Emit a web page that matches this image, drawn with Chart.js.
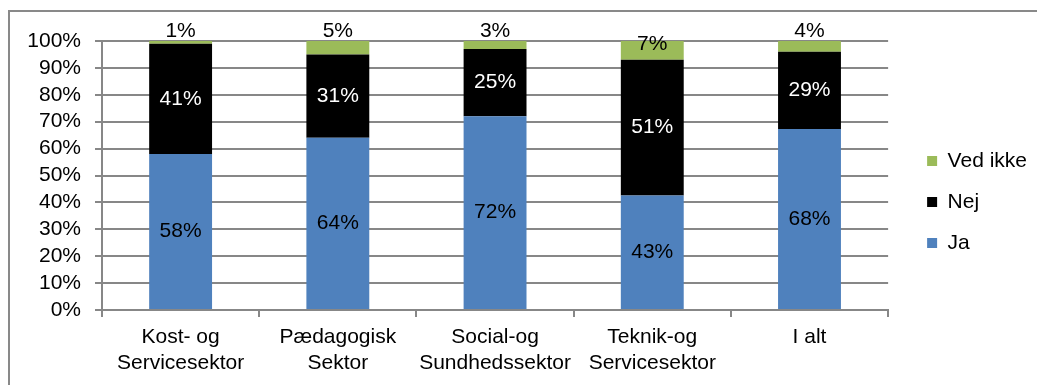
<!DOCTYPE html>
<html lang="da">
<head>
<meta charset="utf-8">
<title>Ja / Nej / Ved ikke</title>
<script src="https://cdn.jsdelivr.net/npm/chart.js@4.4.1/dist/chart.umd.min.js"></script>
<style>
  html, body { margin: 0; padding: 0; background: #fff; overflow: hidden; }
  #wrap { position: relative; width: 1037px; height: 385px; overflow: hidden; }
  #ramme { position: absolute; left: 8px; top: 10px; width: 1100px; height: 400px; border-left: 2px solid #898989; border-top: 2px solid #898989; }
  canvas { position: absolute; left: 0; top: 0; }
</style>
</head>
<body>
<div id="wrap">
  <div id="ramme"></div>
  <canvas id="grafik" width="1037" height="385"></canvas>
</div>
<script>
const sektorer = [
  ["Kost- og", "Servicesektor"],
  ["Pædagogisk", "Sektor"],
  ["Social-og", "Sundhedssektor"],
  ["Teknik-og", "Servicesektor"],
  ["I alt"],
];
const ja = [58, 64, 72, 43, 68];
const nej = [41, 31, 25, 51, 29];
const vedIkke = [1, 5, 3, 7, 4];
const procenter = [0, 10, 20, 30, 40, 50, 60, 70, 80, 90, 100];

const gitterFarve = "#878787";
const skrift = { family: "'Liberation Sans', Arial, sans-serif", size: 21 };

// 100% stablet: hver søjle regnes om til andele af summen
const totaler = ja.map((v, i) => v + nej[i] + vedIkke[i]);
const andel = (serie) => serie.map((v, i) => (v / totaler[i]) * 100);

// Procenttal midt i felterne
const etiketter = {
  id: "etiketter",
  afterDatasetsDraw(chart) {
    const ctx = chart.ctx;
    ctx.save();
    ctx.font = "21px 'Liberation Sans', Arial, sans-serif";
    ctx.textAlign = "center";
    ctx.textBaseline = "middle";
    chart.data.datasets.forEach((ds, d) => {
      chart.getDatasetMeta(d).data.forEach((bar, i) => {
        const top = Math.min(bar.y, bar.base);
        const hoejde = Math.abs(bar.base - bar.y);
        let y = top + hoejde / 2;
        if (ds.label === "Ved ikke") {
          // smalle felter: tallet står over søjlen
          y = hoejde > 15 ? y - 6 : top - 10;
        }
        ctx.fillStyle = ds.tekstFarve;
        ctx.fillText(ds.raa[i] + "%", bar.x, y);
      });
    });
    ctx.restore();
  },
};

// tom akse der kun bruges som afstand
const luft = (bredde, hoejde) => ({
  grid: { display: false },
  ticks: { display: false },
  border: { display: false },
  afterFit: (s) => {
    if (bredde) s.width = bredde;
    if (hoejde) s.height = hoejde;
  },
});

new Chart(document.getElementById("grafik"), {
  type: "bar",
  data: {
    labels: sektorer,
    datasets: [
      { label: "Ja", data: andel(ja), raa: ja, backgroundColor: "#4f81bd", tekstFarve: "#000" },
      { label: "Nej", data: andel(nej), raa: nej, backgroundColor: "#000000", tekstFarve: "#fff" },
      { label: "Ved ikke", data: andel(vedIkke), raa: vedIkke, backgroundColor: "#9bbb59", tekstFarve: "#000" },
    ],
  },
  options: {
    responsive: false,
    animation: false,
    layout: { padding: { top: 19, bottom: 0, left: 0, right: 0 } },
    datasets: {
      bar: { categoryPercentage: 1, barPercentage: 0.4, borderWidth: 0 },
    },
    plugins: {
      tooltip: { enabled: false },
      legend: {
        position: "right",
        reverse: true,
        labels: { boxWidth: 10, boxHeight: 10, padding: 20, color: "#000", font: skrift },
      },
    },
    scales: {
      x: {
        stacked: true,
        offset: true,
        grid: { drawOnChartArea: false, drawTicks: true, tickLength: 7, offset: true, color: gitterFarve, lineWidth: 2 },
        border: { color: gitterFarve, width: 2 },
        ticks: { color: "#000", font: { ...skrift, lineHeight: 1.24 }, padding: 7, maxRotation: 0, autoSkip: false },
        afterFit: (s) => {
          s.height = 75;
        },
      },
      y: {
        stacked: true,
        min: 0,
        max: 100,
        grid: { color: gitterFarve, lineWidth: 2, tickLength: 7 },
        border: { color: gitterFarve, width: 2 },
        ticks: { color: "#000", font: { ...skrift, lineHeight: 1 }, padding: 14, autoSkip: false, callback: (v) => v + "%" },
        afterBuildTicks: (s) => {
          s.ticks = procenter.map((v) => ({ value: v }));
        },
        afterFit: (s) => {
          s.width = 102;
        },
      },
      luftTop: { position: "top", ...luft(0, 22) },
      luftHoejre: { position: "right", ...luft(19, 0) },
    },
  },
  plugins: [etiketter],
});
</script>
</body>
</html>
